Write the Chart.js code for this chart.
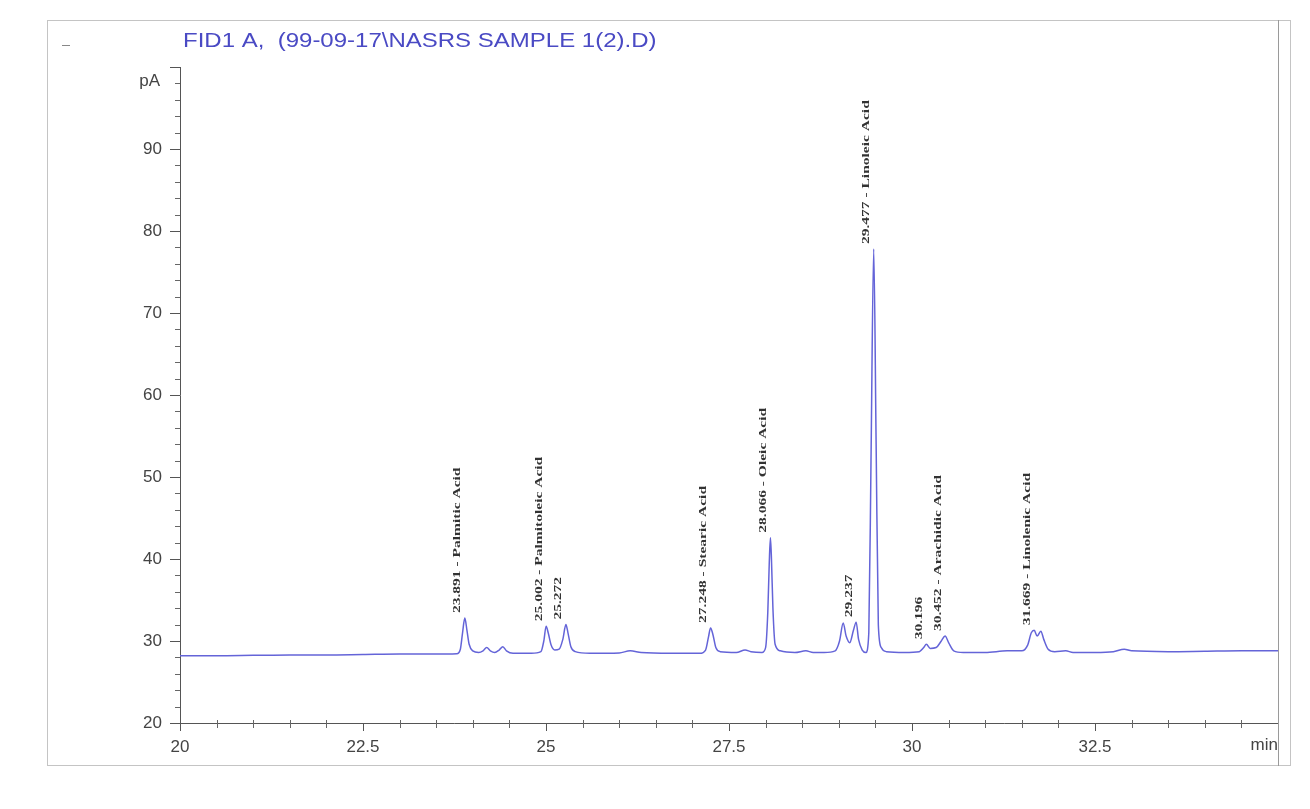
<!DOCTYPE html>
<html>
<head>
<meta charset="utf-8">
<title>FID1 A chromatogram</title>
<script src="https://cdn.jsdelivr.net/npm/chart.js@4.4.1/dist/chart.umd.min.js"></script>
<style>
  html, body { margin: 0; padding: 0; background: #fff; }
  #wrap { width: 1310px; height: 809px; }
</style>
</head>
<body>
<div id="wrap"><canvas id="chromChart" width="1310" height="809"></canvas></div>
<script>
// retention time (min) and detector signal (pA)
const times = [20.0, 20.5, 21.0, 21.5, 22.0, 22.5, 23.0, 23.5, 23.78, 23.83, 23.86, 23.891, 23.92, 23.95, 24.0,
  24.08, 24.14, 24.19, 24.24, 24.3, 24.36, 24.41, 24.46, 24.55, 24.8, 24.93, 24.97, 25.002, 25.03, 25.07,
  25.12, 25.18, 25.23, 25.272, 25.3, 25.34, 25.4, 25.6, 26.0, 26.15, 26.3, 26.7, 27.1, 27.18, 27.22,
  27.248, 27.28, 27.32, 27.38, 27.6, 27.72, 27.8, 27.95, 28.0, 28.03, 28.05, 28.066, 28.08, 28.1, 28.13,
  28.2, 28.4, 28.55, 28.65, 28.8, 28.95, 29.01, 29.06, 29.1, 29.15, 29.2, 29.237, 29.27, 29.32, 29.37,
  29.41, 29.44, 29.477, 29.51, 29.54, 29.58, 29.65, 29.9, 30.1, 30.16, 30.196, 30.25, 30.33, 30.4, 30.452,
  30.5, 30.57, 30.7, 31.0, 31.3, 31.5, 31.58, 31.63, 31.669, 31.71, 31.76, 31.8, 31.86, 31.95, 32.1,
  32.2, 32.5, 32.75, 32.9, 33.0, 33.5, 34.0, 34.5, 35.0];
const signal = [28.2, 28.2, 28.25, 28.3, 28.3, 28.35, 28.4, 28.4, 28.45, 29.0, 31.0, 32.8, 31.3, 29.6, 28.8,
  28.6, 28.8, 29.2, 28.8, 28.6, 28.9, 29.3, 28.8, 28.5, 28.5, 28.7, 30.0, 31.8, 31.0, 29.5,
  28.9, 29.0, 30.2, 32.0, 31.0, 29.3, 28.7, 28.5, 28.55, 28.8, 28.6, 28.5, 28.5, 28.9, 30.5,
  31.6, 30.8, 29.2, 28.7, 28.6, 28.9, 28.7, 28.6, 29.2, 33.5, 39.5, 42.6, 40.0, 34.0, 29.6,
  28.8, 28.6, 28.8, 28.6, 28.6, 28.8, 30.0, 32.2, 30.6, 29.8, 31.3, 32.3, 30.2, 28.9, 28.6,
  31.0, 52.0, 77.8, 54.0, 32.0, 29.2, 28.7, 28.6, 28.7, 29.2, 29.6, 29.1, 29.2, 30.0, 30.6,
  29.8, 28.8, 28.6, 28.6, 28.8, 28.8, 29.5, 31.0, 31.3, 30.6, 31.2, 30.2, 29.0, 28.7, 28.8,
  28.6, 28.6, 28.7, 29.0, 28.8, 28.7, 28.75, 28.8, 28.8];

// integrated peaks and their annotations
const peakTimes = [23.891, 25.002, 25.272, 27.248, 28.066, 29.237, 29.477, 30.196, 30.452, 31.669];
const peakHeights = [32.8, 31.8, 32.0, 31.6, 42.6, 32.3, 77.8, 29.6, 30.6, 31.3];
const peakNames = ['Palmitic Acid', 'Palmitoleic Acid', '', 'Stearic Acid', 'Oleic Acid', '',
  'Linoleic Acid', '', 'Arachidic Acid', 'Linolenic Acid'];

const xTicks = [20, 22.5, 25, 27.5, 30, 32.5, 35];
const yTicks = [20, 30, 40, 50, 60, 70, 80, 90, 100];

const chartTitle = 'FID1 A,  (99-09-17\\NASRS SAMPLE 1(2).D)';

const points = times.map((t, i) => ({ x: t, y: signal[i] }));

const decorations = {
    id: 'decorations',
    beforeDraw(chart) {
        const ctx = chart.ctx;
        ctx.save();
        ctx.fillStyle = '#fff';
        ctx.fillRect(0, 0, chart.width, chart.height);
        ctx.strokeStyle = '#c4c4c4';
        ctx.lineWidth = 1;
        ctx.strokeRect(47.5, 20.5, 1243, 745);
        ctx.strokeStyle = '#888';
        ctx.beginPath();
        ctx.moveTo(62, 45.5);
        ctx.lineTo(70, 45.5);
        ctx.stroke();
        ctx.restore();
    },
    afterDraw(chart) {
        const ctx = chart.ctx;
        const xs = chart.scales.x;
        const ys = chart.scales.y;
        const area = chart.chartArea;
        ctx.save();

        // right border of plot
        ctx.strokeStyle = '#9a9a9a';
        ctx.beginPath();
        ctx.moveTo(Math.round(area.right) + 0.5, 20);
        ctx.lineTo(Math.round(area.right) + 0.5, 766);
        ctx.stroke();

        // minor ticks
        ctx.strokeStyle = '#666';
        ctx.lineWidth = 1;
        ctx.beginPath();
        for (let v = 22; v < 100; v += 2) {
            if (v % 10 === 0) continue;
            const py = Math.round(ys.getPixelForValue(v)) + 0.5;
            ctx.moveTo(area.left - 5, py);
            ctx.lineTo(area.left, py);
        }
        for (let k = 1; k < 30; k++) {
            if (k % 5 === 0) continue;
            const px = Math.round(xs.getPixelForValue(20 + k * 0.5)) + 0.5;
            ctx.moveTo(px, area.bottom - 3);
            ctx.lineTo(px, area.bottom + 5);
        }
        ctx.stroke();

        // axis units
        ctx.fillStyle = '#444';
        ctx.font = '17px "Liberation Sans", Arial, sans-serif';
        ctx.textAlign = 'right';
        ctx.textBaseline = 'middle';
        ctx.fillText('pA', area.left - 20, area.top + 14);
        ctx.textBaseline = 'top';
        ctx.fillText('min', area.right, area.bottom + 14);

        // title
        ctx.fillStyle = '#4a4ac4';
        ctx.font = '20px "Liberation Sans", Arial, sans-serif';
        ctx.textAlign = 'left';
        ctx.textBaseline = 'middle';
        ctx.save();
        ctx.translate(183, 41);
        ctx.scale(1.2, 1);
        ctx.fillText(chartTitle, 0, 0);
        ctx.restore();

        // peak annotations, rotated
        ctx.fillStyle = '#333';
        ctx.font = 'bold 10px "Liberation Serif", "Times New Roman", serif';
        ctx.textAlign = 'left';
        ctx.textBaseline = 'bottom';
        peakTimes.forEach((t, i) => {
            const label = peakNames[i] ? t.toFixed(3) + ' - ' + peakNames[i] : t.toFixed(3);
            const px = xs.getPixelForValue(t) - 2;
            const py = ys.getPixelForValue(peakHeights[i]) - 5;
            ctx.save();
            ctx.translate(px, py);
            ctx.rotate(-Math.PI / 2);
            ctx.scale(1.55, 1);
            ctx.fillText(label, 0, 0);
            ctx.restore();
        });
        ctx.restore();
    }
};

const ctx = document.getElementById('chromChart').getContext('2d');
new Chart(ctx, {
    type: 'line',
    data: {
        datasets: [{
            label: 'FID1 A',
            data: points,
            borderColor: '#6464d8',
            borderWidth: 1.5,
            pointRadius: 0,
            cubicInterpolationMode: 'monotone',
            fill: false
        }]
    },
    options: {
        responsive: false,
        animation: false,
        events: [],
        layout: { padding: { left: 110, right: 32, top: 67, bottom: 46 } },
        plugins: {
            legend: { display: false },
            tooltip: { enabled: false },
            title: { display: false }
        },
        scales: {
            x: {
                type: 'linear',
                min: 20,
                max: 35,
                afterBuildTicks: scale => { scale.ticks = xTicks.map(v => ({ value: v })); },
                afterFit: scale => { scale.height = 40; },
                ticks: {
                    color: '#444',
                    font: { family: '"Liberation Sans", Arial, sans-serif', size: 17 },
                    padding: 6,
                    maxRotation: 0,
                    autoSkip: false,
                    callback: v => (v === 35 ? '' : String(v))
                },
                grid: { drawOnChartArea: false, tickLength: 8, color: '#555' },
                border: { color: '#555', width: 1 }
            },
            y: {
                type: 'linear',
                min: 20,
                max: 100,
                afterBuildTicks: scale => { scale.ticks = yTicks.map(v => ({ value: v })); },
                afterFit: scale => { scale.width = 70; },
                ticks: {
                    color: '#444',
                    font: { family: '"Liberation Sans", Arial, sans-serif', size: 17 },
                    padding: 8,
                    autoSkip: false,
                    callback: v => (v === 100 ? '' : String(v))
                },
                grid: { drawOnChartArea: false, tickLength: 10, color: '#555' },
                border: { color: '#555', width: 1 }
            }
        }
    },
    plugins: [decorations]
});
</script>
</body>
</html>
